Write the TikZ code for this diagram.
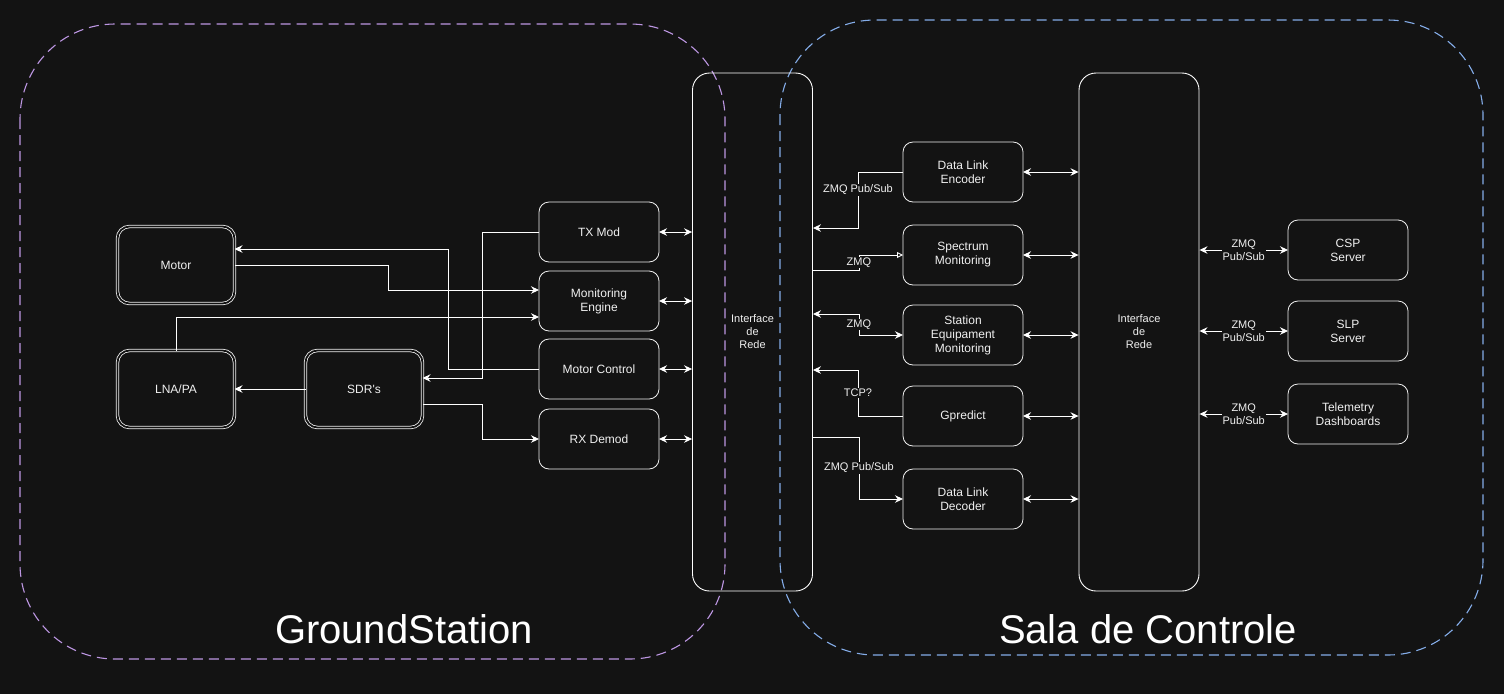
\documentclass[tikz,border=0pt]{standalone}
\usepackage{fontspec}
\setmainfont{Liberation Sans}
\usetikzlibrary{positioning,arrows.meta}
\definecolor{bgc}{HTML}{131313}
\definecolor{lilac}{HTML}{BC96E2}
\definecolor{skyb}{HTML}{84ACE8}
\definecolor{ink}{HTML}{F0F0F0}

\begin{document}
\begin{tikzpicture}[x=1pt,y=1pt,font=\fontsize{12}{14}\selectfont,node distance=20pt and 20pt,
>={Stealth[length=8pt,width=7.5pt]},
blk/.style={draw=ink,line width=0.8pt,rounded corners=10pt,fill=bgc,text=ink,align=center,minimum width=120pt,minimum height=60pt,inner sep=2pt,outer sep=0pt},
dbl/.style={blk,double=bgc,double distance=1.8pt,rounded corners=12pt,minimum width=117pt,minimum height=77pt},
iface/.style={draw=white,line width=0.9pt,rounded corners=17pt,text=ink,align=center,minimum width=120pt,minimum height=518pt,font=\fontsize{11}{13}\selectfont},
zone/.style={line width=1.1pt,dash pattern=on 10pt off 6pt,rounded corners=95pt},
ttl/.style={text=white,font=\fontsize{40}{48}\selectfont},
lbl/.style={fill=bgc,text=ink,inner sep=1pt,align=center,font=\fontsize{11}{12.5}\selectfont},
arr/.style={->,draw=white,line width=0.9pt},
barr/.style={<->,draw=white,line width=0.9pt},
oarr/.style={-{Triangle[open,length=6pt,width=6pt]},draw=white,line width=0.9pt}]
\fill[bgc] (0,0) rectangle (1504,-694);
\useasboundingbox (0,0) rectangle (1504,-694);
% the two sites
\draw[zone,lilac] (20,-24) rectangle (725,-659);
\draw[zone,skyb] (780,-20) rectangle (1483,-655);
\node[ttl] (gs) at (404,-629) {GroundStation};
\node[ttl] (sala) at (1148,-629) {Sala de Controle};
% ground station
\node[dbl] (motor) at (176,-265) {Motor};
\node[dbl,below=47pt of motor] (lna) {LNA/PA};
\node[dbl,right=71pt of lna] (sdr) {SDR\textquotesingle s};
\node[blk] (txmod) at (599,-232) {TX Mod};
\node[blk,below=9pt of txmod] (moneng) {Monitoring\\Engine};
\node[blk,below=8pt of moneng] (motctl) {Motor Control};
\node[blk,below=10pt of motctl] (rxdem) {RX Demod};
\node[iface] (ifl) at (752.5,-332) {Interface\\de\\Rede};
% control room
\node[blk] (enc) at (963,-172) {Data Link\\Encoder};
\node[blk,below=23pt of enc] (spec) {Spectrum\\Monitoring};
\node[blk,below=20pt of spec] (stat) {Station\\Equipament\\Monitoring};
\node[blk,below=21pt of stat] (gpred) {Gpredict};
\node[blk,below=23pt of gpred] (dec) {Data Link\\Decoder};
\node[iface] (ifr) at (1139,-332) {Interface\\de\\Rede};
\node[blk] (csp) at (1348,-250) {CSP\\Server};
\node[blk,below=21pt of csp] (slp) {SLP\\Server};
\node[blk,below=23pt of slp] (tel) {Telemetry\\Dashboards};
% ground station links
\draw[arr] (txmod.west) -- ++(-57,0) |- ([yshift=11pt]sdr.east);
\draw[arr] (motctl.west) -- ++(-91,0) |- ([yshift=16pt]motor.east);
\draw[arr] (motor.east) -- ++(153.5,0) |- ([yshift=11pt]moneng.west);
\draw[arr] (lna.north) |- ([yshift=-16pt]moneng.west);
\draw[arr] (sdr.west) -- (lna.east);
\draw[arr] ([yshift=-15pt]sdr.east) -- ++(59.5,0) |- (rxdem.west);
\foreach \n in {txmod,moneng,motctl,rxdem}
  \draw[barr] (\n.east) -- (\n.east -| ifl.west);
% control room links
\draw[arr] (enc.west) -- ++(-45,0) -- node[lbl,pos=0.32]{ZMQ Pub/Sub} ++(0,-56) -- ([yshift=104pt]ifl.east);
\draw[oarr] ([yshift=62pt]ifl.east) -- ++(46,0) -- node[lbl]{ZMQ} ++(0,15) -- (spec.west);
\draw[barr] ([yshift=18pt]ifl.east) -- ++(46,0) -- node[lbl]{ZMQ} ++(0,-21) -- (stat.west);
\draw[arr] (gpred.west) -- ++(-45,0) -- node[lbl]{TCP?} ++(0,46) -- ([yshift=-38pt]ifl.east);
\draw[arr] ([yshift=-105pt]ifl.east) -- ++(46,0) -- node[lbl]{ZMQ Pub/Sub} ++(0,-62) -- (dec.west);
\foreach \n in {enc,spec,stat,gpred,dec}
  \draw[barr] (\n.east) -- (\n.east -| ifr.west);
\foreach \n in {csp,slp,tel}
  \draw[barr] (\n.west -| ifr.east) -- node[lbl]{ZMQ\\Pub/Sub} (\n.west);
\end{tikzpicture}
\end{document}
